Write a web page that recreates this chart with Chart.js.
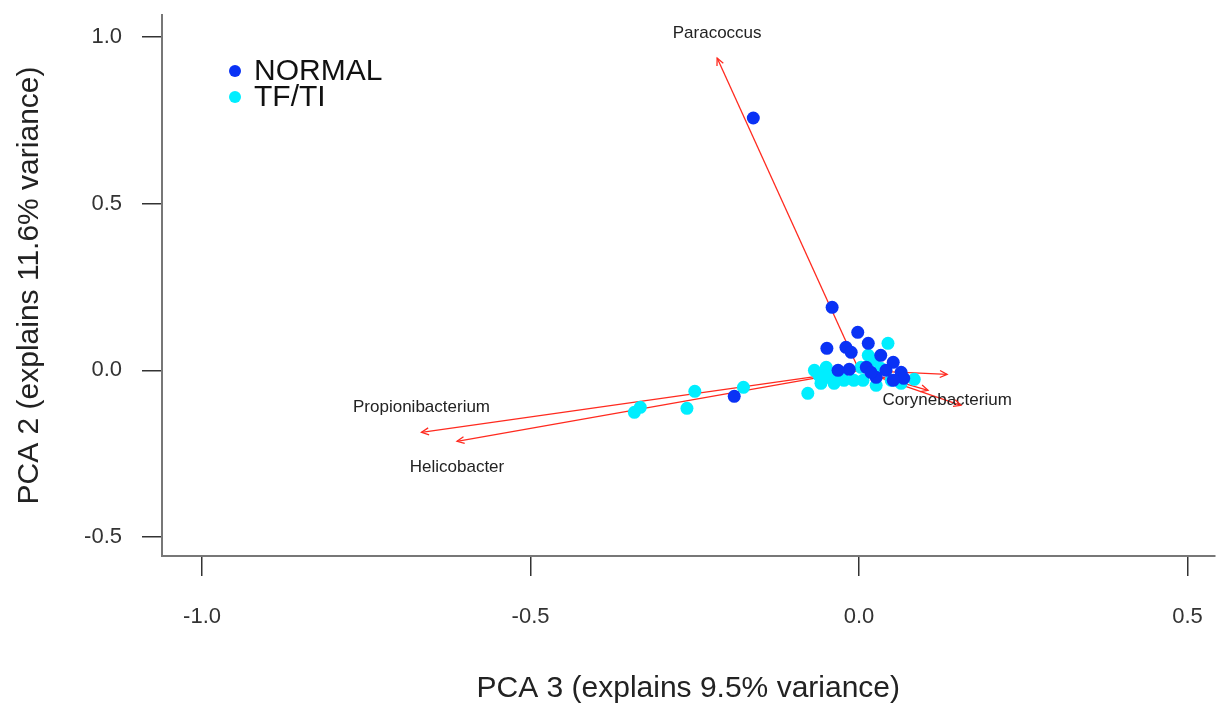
<!DOCTYPE html>
<html>
<head>
<meta charset="utf-8">
<script src="https://cdn.jsdelivr.net/npm/chart.js@4.4.1/dist/chart.umd.min.js"></script>
<style>
  html, body { margin: 0; padding: 0; background: #ffffff; }
  #wrap { width: 1221px; height: 708px; }
</style>
</head>
<body>
<div id="wrap"><canvas id="c" width="1221" height="708"></canvas></div>
<script>
// ---- data ----
const seriesNames = ["NORMAL", "TF/TI"];
const normalX = [-0.161, -0.041, -0.190, -0.002, -0.049, -0.020, -0.012, 0.014, 0.033, 0.052, 0.064, 0.068, -0.015, 0.011, 0.026, 0.052, -0.032, 0.041, 0.018];
const normalY = [0.757, 0.189, -0.078, 0.114, 0.066, 0.069, 0.054, 0.081, 0.045, 0.024, -0.006, -0.024, 0.003, 0.009, -0.021, -0.030, 0.000, 0.000, -0.006];
const tfX = [-0.342, -0.333, -0.262, -0.250, -0.176, -0.078, -0.061, -0.050, -0.038, -0.046, -0.008, 0.003, 0.014, 0.023, 0.033, 0.049, 0.084, 0.006, -0.023, -0.030, -0.068, -0.058, 0.044, 0.064, 0.026, -0.055, -0.040];
const tfY = [-0.126, -0.111, -0.114, -0.063, -0.051, -0.069, -0.015, 0.009, -0.039, -0.015, -0.030, 0.009, 0.045, 0.030, 0.006, -0.030, -0.027, -0.030, -0.030, -0.006, 0.000, -0.039, 0.081, -0.039, -0.045, -0.025, -0.028];
const loadingNames = ["Paracoccus", "Propionibacterium", "Helicobacter", "Corynebacterium", "", ""];
const loadingX = [-0.216, -0.666, -0.612, 0.134, 0.105, 0.155];
const loadingY = [0.937, -0.186, -0.213, -0.012, -0.060, -0.105];
const labelSide = ["above", "above", "below", "below", "", ""];
const xTicks = [-1.0, -0.5, 0.0, 0.5];
const yTicks = [-0.5, 0.0, 0.5, 1.0];
const xTitle = "PCA 3 (explains 9.5% variance)";
const yTitle = "PCA 2 (explains 11.6% variance)";

// ---- styles ----
const COL_NORMAL = "#0a32f5";
const COL_TF = "#00eeff";
const COL_ARROW = "#ff2a1f";
const FONT = "'Liberation Sans', Arial, Helvetica, sans-serif";

const pts = (xs, ys) => xs.map((x, i) => ({ x: x, y: ys[i] }));

const datasets = [
  { label: seriesNames[0], data: pts(normalX, normalY), backgroundColor: COL_NORMAL, borderWidth: 0, pointRadius: 6.5, showLine: false },
  { label: seriesNames[1], data: pts(tfX, tfY), backgroundColor: COL_TF, borderWidth: 0, pointRadius: 6.5, showLine: false }
];
loadingNames.forEach((n, i) => {
  datasets.push({
    label: "arrow" + i, isArrow: true,
    data: [{ x: 0, y: 0 }, { x: loadingX[i], y: loadingY[i] }],
    showLine: true, borderColor: COL_ARROW, borderWidth: 1.3, pointRadius: 0, fill: false
  });
});

const arrowPlugin = {
  id: 'arrows',
  afterDatasetsDraw(chart) {
    const ctx = chart.ctx, xs = chart.scales.x, ys = chart.scales.y;
    ctx.save();
    loadingNames.forEach((n, i) => {
      const x0 = xs.getPixelForValue(0), y0 = ys.getPixelForValue(0);
      const x1 = xs.getPixelForValue(loadingX[i]), y1 = ys.getPixelForValue(loadingY[i]);
      const a = Math.atan2(y1 - y0, x1 - x0);
      const L = 8, w = Math.PI / 7;
      ctx.strokeStyle = COL_ARROW; ctx.lineWidth = 1.3;
      ctx.beginPath();
      ctx.moveTo(x1 - L * Math.cos(a - w), y1 - L * Math.sin(a - w));
      ctx.lineTo(x1, y1);
      ctx.lineTo(x1 - L * Math.cos(a + w), y1 - L * Math.sin(a + w));
      ctx.stroke();
      if (n) {
        ctx.fillStyle = "#222";
        ctx.font = "17px " + FONT;
        ctx.textAlign = "center"; ctx.textBaseline = "middle";
        const dy = labelSide[i] === "above" ? -25 : 26;
        ctx.fillText(n, x1, y1 + dy);
      }
    });
    const items = [[seriesNames[0], COL_NORMAL], [seriesNames[1], COL_TF]];
    items.forEach((it, k) => {
      const cy = 71 + k * 26;
      ctx.fillStyle = it[1];
      ctx.beginPath(); ctx.arc(235, cy, 6, 0, Math.PI * 2); ctx.fill();
      ctx.fillStyle = "#111";
      ctx.font = "30px " + FONT;
      ctx.textAlign = "left"; ctx.textBaseline = "middle";
      ctx.fillText(it[0], 254, cy + 1);
    });
    ctx.restore();
  }
};

new Chart(document.getElementById('c'), {
  type: 'scatter',
  data: { datasets: datasets },
  plugins: [arrowPlugin],
  options: {
    responsive: false,
    devicePixelRatio: 1,
    animation: false,
    layout: { padding: { top: 15, left: 0, right: 0, bottom: 0 } },
    plugins: { legend: { display: false }, tooltip: { enabled: false } },
    scales: {
      x: {
        type: 'linear', min: -1.061, max: 0.541,
        afterFit(s) { s.height = 152; s.paddingLeft = 0; s.paddingRight = 0; },
        afterBuildTicks(s) { s.ticks = xTicks.map(v => ({ value: v })); },
        ticks: { font: { size: 22, family: FONT }, color: '#333', padding: 28, callback: v => v.toFixed(1), maxRotation: 0 },
        grid: { drawOnChartArea: false, drawTicks: true, tickLength: 20, color: '#333', lineWidth: 1.5 },
        border: { display: true, color: '#777', width: 2 },
        title: { display: true, text: xTitle, font: { size: 30, family: FONT }, color: '#222', padding: { top: 0, bottom: 1 } }
      },
      y: {
        type: 'linear', min: -0.557, max: 1.066,
        afterFit(s) { s.width = 162; s.paddingTop = 0; s.paddingBottom = 0; },
        afterBuildTicks(s) { s.ticks = yTicks.map(v => ({ value: v })); },
        ticks: { font: { size: 22, family: FONT }, color: '#333', padding: 20, callback: v => v.toFixed(1) },
        grid: { drawOnChartArea: false, drawTicks: true, tickLength: 20, color: '#333', lineWidth: 1.5 },
        border: { display: true, color: '#777', width: 2 },
        title: { display: true, text: yTitle, font: { size: 30, family: FONT }, color: '#222', padding: { top: 12, bottom: 0 } }
      }
    }
  }
});
</script>
</body>
</html>
